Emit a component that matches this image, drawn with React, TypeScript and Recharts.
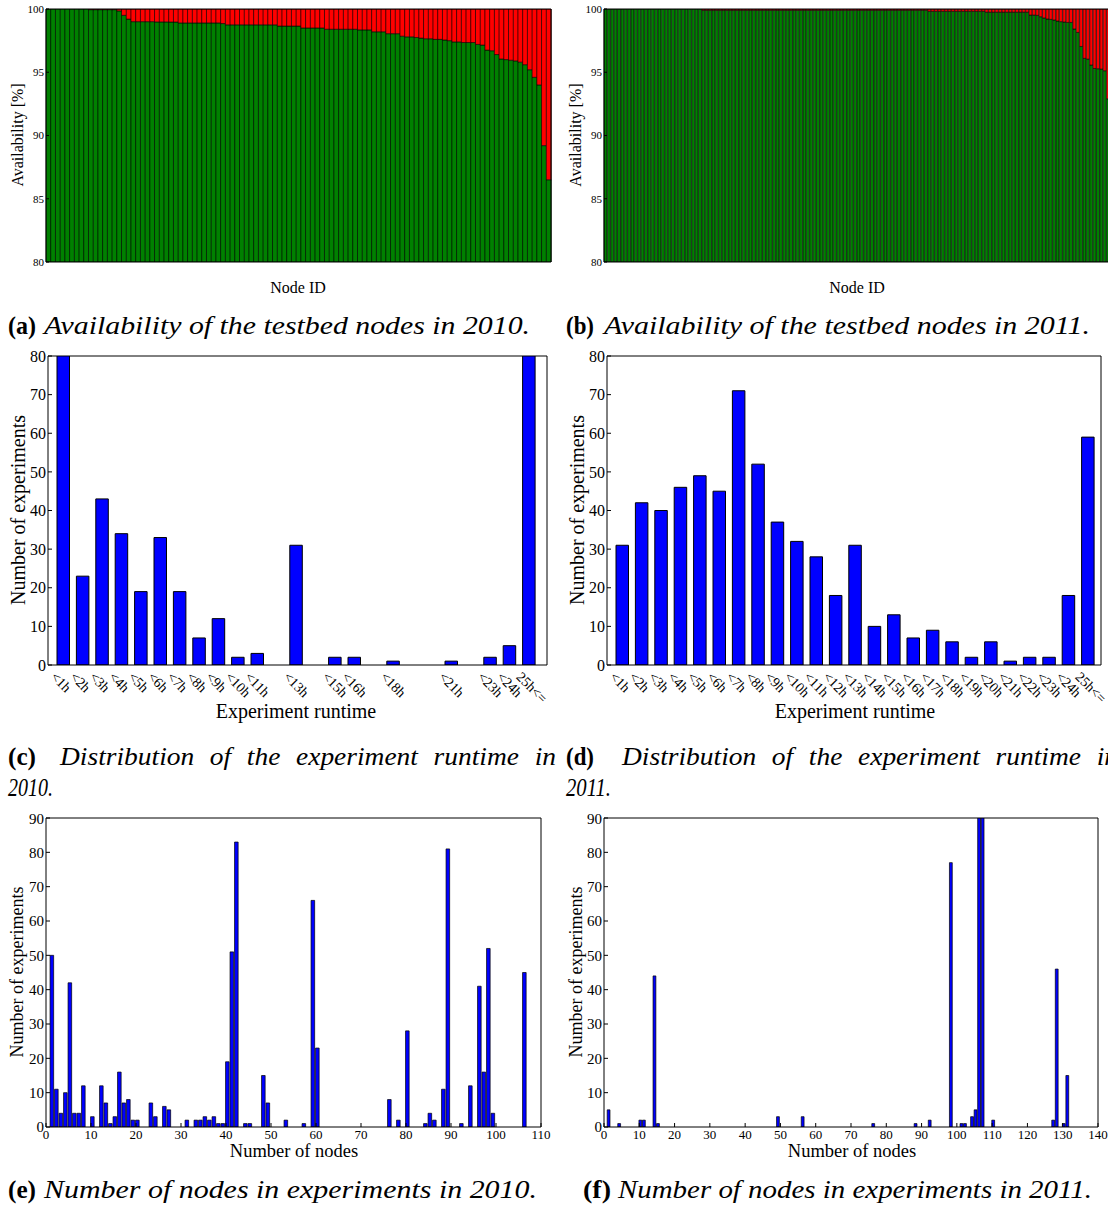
import React from 'react'
import { BarChart, Bar, XAxis, YAxis } from 'recharts'

const SERIF = '"Liberation Serif", "DejaVu Serif", serif'

// availability per node, sorted (a) and (b)
const availability2010 = [
  100, 100, 100, 100, 100, 100, 100, 100, 100,
  99.95, 99.95, 99.95, 99.95, 99.95, 99.95,
  99.85, 99.5, 99.2,
  99.0, 99.0, 99.0, 99.0, 99.0, 98.98, 98.98, 98.98, 98.97, 98.97,
  98.9, 98.9, 98.9, 98.9, 98.9, 98.9, 98.9, 98.9, 98.9,
  98.85,
  98.75, 98.75, 98.75, 98.75, 98.75, 98.75, 98.75, 98.75, 98.75, 98.75, 98.75,
  98.65, 98.65, 98.65, 98.65, 98.65,
  98.5, 98.5, 98.5, 98.5, 98.5,
  98.4, 98.4, 98.4, 98.4, 98.4, 98.4, 98.4,
  98.35, 98.35, 98.35,
  98.2, 98.2, 98.2,
  98.05, 98.05, 98.05,
  97.85, 97.8, 97.8, 97.75, 97.7, 97.65, 97.65, 97.6, 97.6, 97.55, 97.5, 97.4,
  97.4, 97.35, 97.35, 97.35, 97.2, 97.15, 96.75, 96.7, 96.4, 96.05, 96.0, 95.95,
  95.9, 95.8, 95.6, 95.2, 94.6, 94.0, 89.2, 86.5,
]

const availability2011 = [
  100, 100, 100, 100, 100, 100, 100, 100, 100, 100,
  100, 100, 100, 100, 100, 100, 100, 100, 100, 100,
  100, 100, 100, 100, 100, 100, 100, 100, 100,
  99.9, 99.9, 99.9, 99.9, 99.9, 99.9, 99.9, 99.9, 99.9, 99.9,
  99.9, 99.9, 99.9, 99.9, 99.9, 99.9, 99.9, 99.9, 99.9, 99.9,
  99.9, 99.9, 99.9, 99.9, 99.9, 99.9, 99.9, 99.9, 99.9, 99.9,
  99.9, 99.9, 99.9, 99.9, 99.9, 99.9, 99.9, 99.9, 99.9, 99.9,
  99.9, 99.9, 99.9, 99.9, 99.9, 99.9, 99.9, 99.9, 99.9, 99.9,
  99.9, 99.9, 99.9, 99.9, 99.9, 99.9, 99.9, 99.9, 99.9, 99.9,
  99.9, 99.9, 99.9, 99.9, 99.9, 99.9, 99.9,
  99.82, 99.82, 99.82, 99.82, 99.82, 99.82, 99.82, 99.82, 99.82,
  99.82, 99.82, 99.82, 99.82, 99.82, 99.82, 99.82, 99.82,
  99.75, 99.75, 99.75, 99.75, 99.75, 99.75, 99.75, 99.75, 99.75,
  99.75, 99.75, 99.75, 99.75,
  99.52, 99.52, 99.5, 99.39, 99.29, 99.21, 99.18, 99.13, 99.05, 99.0, 98.97, 98.94,
  98.94, 98.42, 98.15, 97.04, 96.1, 96.04, 95.57, 95.3, 95.28, 95.25, 95.12, 92.9,
]

const availTicks = [80, 85, 90, 95, 100]

const runtimeCategories = [
  '<1h', '<2h', '<3h', '<4h', '<5h', '<6h', '<7h', '<8h', '<9h', '<10h', '<11h', '<12h',
  '<13h', '<14h', '<15h', '<16h', '<17h', '<18h', '<19h', '<20h', '<21h', '<22h', '<23h',
  '<24h', '25h<=',
]
// 2010 only labels the runtimes that occurred
const runtimeLabels2010 = [
  '<1h', '<2h', '<3h', '<4h', '<5h', '<6h', '<7h', '<8h', '<9h', '<10h', '<11h', '',
  '<13h', '', '<15h', '<16h', '', '<18h', '', '', '<21h', '', '<23h', '<24h', '25h<=',
]
const runtime2010 = [130, 23, 43, 34, 19, 33, 19, 7, 12, 2, 3, 0, 31, 0, 2, 2, 0, 1, 0, 0, 1, 0, 2, 5, 110]
const runtime2011 = [31, 42, 40, 46, 49, 45, 71, 52, 37, 32, 28, 18, 31, 10, 13, 7, 9, 6, 2, 6, 1, 2, 2, 18, 59]
const runtimeYTicks = [0, 10, 20, 30, 40, 50, 60, 70, 80]

const nodes2010 = [
  1, 2, 3, 4, 5, 6, 7, 8, 10, 12, 13, 14, 15, 16, 17, 18, 19, 20, 23, 24, 26, 27, 31, 33,
  34, 35, 36, 37, 38, 39, 40, 41, 42, 44, 45, 48, 49, 53, 57, 59, 60, 76, 78, 80, 84, 85,
  86, 88, 89, 92, 94, 96, 97, 98, 99, 106,
]
const experiments2010 = [
  50, 11, 4, 10, 42, 4, 4, 12, 3, 12, 7, 1, 3, 16, 7, 8, 2, 2, 7, 3, 6, 5, 2, 2,
  2, 3, 2, 3, 1, 1, 19, 51, 83, 1, 1, 15, 7, 2, 1, 66, 23, 8, 2, 28, 1, 4,
  2, 11, 81, 1, 12, 41, 16, 52, 4, 45,
]
const nodes2011 = [1, 4, 10, 11, 14, 15, 49, 56, 76, 88, 92, 98, 101, 102, 104, 105, 106, 107, 110, 127, 128, 130, 131]
const experiments2011 = [5, 1, 2, 2, 44, 1, 3, 3, 1, 1, 2, 77, 1, 1, 3, 5, 125, 105, 2, 2, 46, 1, 15]

const nodesYTicks = [0, 10, 20, 30, 40, 50, 60, 70, 80, 90]
const nodesXTicks2010 = [0, 10, 20, 30, 40, 50, 60, 70, 80, 90, 100, 110]
const nodesXTicks2011 = [0, 10, 20, 30, 40, 50, 60, 70, 80, 90, 100, 110, 120, 130, 140]

type Plot = { left: number; top: number; right: number; bottom: number }

function AvailabilityChart({ values, width, height, plot }: { values: number[]; width: number; height: number; plot: Plot }) {
  const data = values.map((v, i) => ({ node: i, up: v, down: +(100 - v).toFixed(2) }))
  return (
    <BarChart
      width={width}
      height={height}
      data={data}
      barCategoryGap={0}
      margin={{ top: plot.top - 1, right: width - plot.right - 1, left: 0, bottom: 0 }}
    >
      <XAxis dataKey="node" height={height - plot.bottom} tick={false} tickLine={false} stroke="#000" />
      <XAxis xAxisId="t" orientation="top" dataKey="node" height={1} tick={false} tickLine={false} stroke="#000" />
      <YAxis
        domain={[80, 100]}
        ticks={availTicks}
        allowDataOverflow
        width={plot.left}
        stroke="#000"
        tickSize={-3}
        tickMargin={5}
        tick={{ fontSize: 11, fill: '#000', fontFamily: SERIF }}
      />
      <YAxis yAxisId="r" orientation="right" domain={[80, 100]} ticks={availTicks} allowDataOverflow width={1} tick={false} tickSize={-3} stroke="#000" />
      <Bar dataKey="up" stackId="a" fill="#008000" stroke="#000" strokeWidth={0.6} isAnimationActive={false} />
      <Bar dataKey="down" stackId="a" fill="#ff0000" stroke="#000" strokeWidth={0.6} isAnimationActive={false} />
    </BarChart>
  )
}

function RuntimeTick({ x, y, payload, labels }: any) {
  const label = labels[payload.index]
  if (!label) return null
  const ax = x - 7
  return (
    <text
      x={ax}
      y={y}
      transform={`rotate(45 ${ax} ${y})`}
      fontSize={14}
      fontFamily={SERIF}
      fill="#000"
      dominantBaseline="hanging"
    >
      {label}
    </text>
  )
}

function RuntimeChart({ values, labels, width, height, plot, pad }: {
  values: number[]; labels: string[]; width: number; height: number; plot: Plot; pad: { left: number; right: number }
}) {
  const data = runtimeCategories.map((c, i) => ({ cat: c, n: values[i] }))
  return (
    <BarChart
      width={width}
      height={height}
      data={data}
      barSize={12.5}
      margin={{ top: plot.top - 1, right: width - plot.right - 1, left: 0, bottom: 0 }}
    >
      <XAxis
        dataKey="cat"
        interval={0}
        padding={pad}
        height={height - plot.bottom}
        stroke="#000"
        tickLine={false}
        tickSize={-4}
        tickMargin={10}
        tick={(p: any) => <RuntimeTick {...p} labels={labels} />}
      />
      <XAxis xAxisId="t" orientation="top" dataKey="cat" interval={0} padding={pad} height={1} tick={false} tickSize={-4} stroke="#000" />
      <YAxis
        domain={[0, 80]}
        ticks={runtimeYTicks}
        allowDataOverflow
        width={plot.left}
        stroke="#000"
        tickSize={-4}
        tickMargin={6}
        tick={{ fontSize: 16, fill: '#000', fontFamily: SERIF }}
      />
      <YAxis yAxisId="r" orientation="right" domain={[0, 80]} ticks={runtimeYTicks} allowDataOverflow width={1} tick={false} tickSize={-4} stroke="#000" />
      <Bar dataKey="n" fill="#0000ff" stroke="#000" strokeWidth={1} isAnimationActive={false} />
    </BarChart>
  )
}

function NodesChart({ nodes, counts, xTicks, width, height, plot }: {
  nodes: number[]; counts: number[]; xTicks: number[]; width: number; height: number; plot: Plot
}) {
  const xMax = xTicks[xTicks.length - 1]
  // matplotlib bars sit with their left edge on the node count, 0.8 wide
  const data = nodes.map((n, i) => ({ x: n + 0.4, v: counts[i] }))
  const barSize = ((plot.right - plot.left) / xMax) * 0.8
  return (
    <BarChart
      width={width}
      height={height}
      data={data}
      barSize={barSize}
      margin={{ top: plot.top - 1, right: width - plot.right - 1, left: 0, bottom: 0 }}
    >
      <XAxis
        type="number"
        dataKey="x"
        domain={[0, xMax]}
        ticks={xTicks}
        interval={0}
        allowDataOverflow
        height={height - plot.bottom}
        stroke="#000"
        tickSize={-4}
        tickMargin={7}
        tick={{ fontSize: 13, fill: '#000', fontFamily: SERIF }}
      />
      <XAxis xAxisId="t" orientation="top" type="number" dataKey="x" domain={[0, xMax]} ticks={xTicks} interval={0} height={1} tick={false} tickSize={-4} stroke="#000" />
      <YAxis
        domain={[0, 90]}
        ticks={nodesYTicks}
        allowDataOverflow
        width={plot.left}
        stroke="#000"
        tickSize={-4}
        tickMargin={6}
        tick={{ fontSize: 15, fill: '#000', fontFamily: SERIF }}
      />
      <YAxis yAxisId="r" orientation="right" domain={[0, 90]} ticks={nodesYTicks} allowDataOverflow width={1} tick={false} tickSize={-4} stroke="#000" />
      <Bar dataKey="v" fill="#0000ff" stroke="#000" strokeWidth={0.7} isAnimationActive={false} />
    </BarChart>
  )
}

function AxisTitle({ x, y, text, size, vertical }: { x: number; y: number; text: string; size: number; vertical?: boolean }) {
  return (
    <text
      x={x}
      y={y}
      fontSize={size}
      fontFamily={SERIF}
      fill="#000"
      textAnchor="middle"
      dominantBaseline={vertical ? 'central' : 'alphabetic'}
      transform={vertical ? `rotate(-90 ${x} ${y})` : undefined}
    >
      {text}
    </text>
  )
}

function Caption({ tag, x, text, tx, len, y, wordSpacing }: {
  tag?: string; x: number; text: string; tx: number; len: number; y: number; wordSpacing?: number
}) {
  return (
    <g fontFamily={SERIF} fontSize={25} fill="#000">
      {tag && (
        <text x={x} y={y} fontWeight="bold" textLength={28} lengthAdjust="spacingAndGlyphs">{tag}</text>
      )}
      <text x={tx} y={y} fontStyle="italic" textLength={len} lengthAdjust="spacingAndGlyphs" style={{ wordSpacing: wordSpacing ?? 0 }}>
        {text}
      </text>
    </g>
  )
}

const abs = (left: number, top: number): React.CSSProperties => ({ position: 'absolute', left, top })

export default function App() {
  return (
    <div style={{ position: 'absolute', left: 0, top: 0, width: 1108, height: 1209, overflow: 'hidden', background: '#fff' }}>
      <div style={abs(0, 0)}>
        <AvailabilityChart values={availability2010} width={556} height={300} plot={{ left: 46, top: 9, right: 551, bottom: 262 }} />
      </div>
      <div style={abs(556, 0)}>
        <AvailabilityChart values={availability2011} width={560} height={300} plot={{ left: 48, top: 9, right: 554, bottom: 262 }} />
      </div>
      <div style={abs(0, 340)}>
        <RuntimeChart values={runtime2010} labels={runtimeLabels2010} width={556} height={400}
          plot={{ left: 48, top: 16, right: 547, bottom: 325 }} pad={{ left: 6, right: 8 }} />
      </div>
      <div style={abs(556, 340)}>
        <RuntimeChart values={runtime2011} labels={runtimeCategories} width={556} height={400}
          plot={{ left: 51, top: 16, right: 545, bottom: 325 }} pad={{ left: 6, right: 3 }} />
      </div>
      <div style={abs(0, 810)}>
        <NodesChart nodes={nodes2010} counts={experiments2010} xTicks={nodesXTicks2010} width={556} height={340}
          plot={{ left: 46, top: 8, right: 541, bottom: 317 }} />
      </div>
      <div style={abs(556, 810)}>
        <NodesChart nodes={nodes2011} counts={experiments2011} xTicks={nodesXTicks2011} width={556} height={340}
          plot={{ left: 48, top: 8, right: 542, bottom: 317 }} />
      </div>

      <svg width={1108} height={1209} style={{ position: 'absolute', left: 0, top: 0, pointerEvents: 'none' }}>
        <AxisTitle x={17} y={135} text="Availability [%]" size={16} vertical />
        <AxisTitle x={298} y={293} text="Node ID" size={16} />
        <AxisTitle x={575} y={135} text="Availability [%]" size={16} vertical />
        <AxisTitle x={857} y={293} text="Node ID" size={16} />

        <AxisTitle x={18} y={510} text="Number of experiments" size={20} vertical />
        <AxisTitle x={296} y={718} text="Experiment runtime" size={20} />
        <AxisTitle x={577} y={510} text="Number of experiments" size={20} vertical />
        <AxisTitle x={855} y={718} text="Experiment runtime" size={20} />

        <AxisTitle x={17} y={972} text="Number of experiments" size={18} vertical />
        <AxisTitle x={294} y={1157} text="Number of nodes" size={18.5} />
        <AxisTitle x={576} y={972} text="Number of experiments" size={18} vertical />
        <AxisTitle x={852} y={1157} text="Number of nodes" size={18.5} />

        <Caption tag="(a)" x={8} tx={44} len={486} y={334} text="Availability of the testbed nodes in 2010." />
        <Caption tag="(b)" x={566} tx={604} len={486} y={334} text="Availability of the testbed nodes in 2011." />
        <Caption tag="(c)" x={8} tx={60} len={496} y={765} wordSpacing={8} text="Distribution of the experiment runtime in" />
        <Caption x={8} tx={8} len={45} y={796} text="2010." />
        <Caption tag="(d)" x={566} tx={622} len={496} y={765} wordSpacing={8} text="Distribution of the experiment runtime in" />
        <Caption x={566} tx={566} len={45} y={796} text="2011." />
        <Caption tag="(e)" x={8} tx={44} len={493} y={1198} text="Number of nodes in experiments in 2010." />
        <Caption tag="(f)" x={583} tx={618} len={474} y={1198} text="Number of nodes in experiments in 2011." />
      </svg>
    </div>
  )
}
